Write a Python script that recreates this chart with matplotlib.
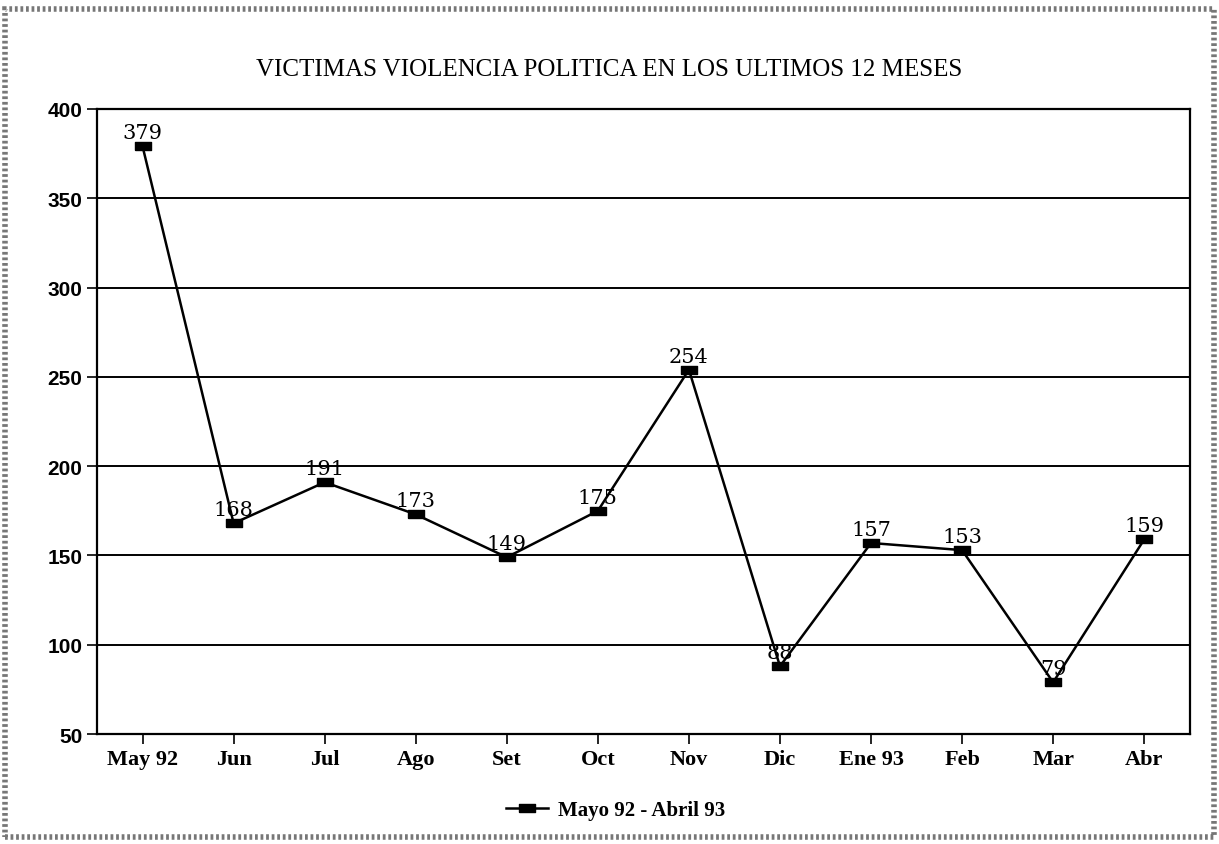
import matplotlib.pyplot as plt
from matplotlib.patches import Rectangle

meses = ['May 92', 'Jun', 'Jul', 'Ago', 'Set', 'Oct', 'Nov', 'Dic', 'Ene 93', 'Feb', 'Mar', 'Abr']
victimas = [379, 168, 191, 173, 149, 175, 254, 88, 157, 153, 79, 159]

fig = plt.figure(figsize=(12.19, 8.45), dpi=100)
fig.patch.set_facecolor('white')
ax = fig.add_axes([0.0796, 0.130, 0.8964, 0.740])

# borde tipo escaneo
fig.patches.append(Rectangle((0.004, 0.008), 0.992, 0.980, transform=fig.transFigure,
                             fill=False, edgecolor='#777777', linewidth=4, linestyle=(0, (0.5, 0.5))))

# marcador rectangular ancho
rect = [(-1.7, -1), (1.7, -1), (1.7, 1), (-1.7, 1), (-1.7, -1)]

x = list(range(len(meses)))
for yv in range(100, 400, 50):
    ax.axhline(yv, color='black', linewidth=1.4, zorder=1)

ax.plot(x, victimas, color='black', linewidth=1.8, marker=rect, markersize=11,
        markerfacecolor='black', label='Mayo 92 - Abril 93', zorder=3)
for xi, v in zip(x, victimas):
    ax.annotate(str(v), (xi, v), textcoords='offset points', xytext=(0, 3), ha='center',
                va='bottom', fontsize=15, family='DejaVu Serif', zorder=4)

ax.set_xlim(-0.5, 11.5)
ax.set_ylim(50, 400)
ax.set_yticks(range(50, 401, 50))
ax.set_xticks(x)
ax.set_xticklabels(meses, family='Liberation Serif', fontweight='bold', fontsize=16)
for lbl in ax.get_yticklabels():
    lbl.set_family('Liberation Sans')
    lbl.set_fontweight('bold')
    lbl.set_fontsize(15)
ax.tick_params(axis='both', direction='out', length=7, width=1.2, colors='black')
for s in ax.spines.values():
    s.set_linewidth(1.6)

fig.text(0.5, 0.917, 'VICTIMAS VIOLENCIA POLITICA EN LOS ULTIMOS 12 MESES', ha='center',
         va='center', fontsize=18, family='Liberation Serif')
fig.legend(loc='center', bbox_to_anchor=(0.505, 0.04), frameon=False,
           prop={'family': 'Liberation Serif', 'weight': 'bold', 'size': 15},
           handlelength=2.0, handletextpad=0.5)

fig.savefig('out.png', dpi=100)
